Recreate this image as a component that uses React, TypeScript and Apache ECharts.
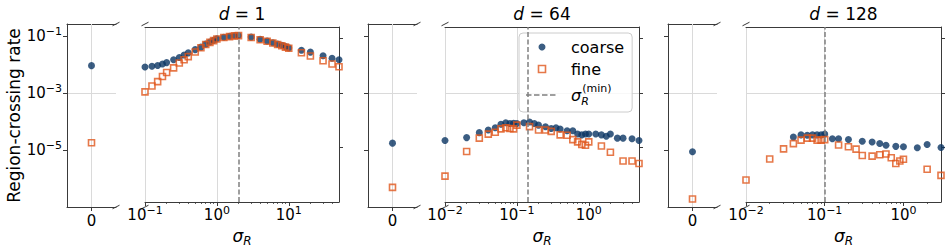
import React, { useEffect, useRef } from "react";
import * as echarts from "echarts";

// ---------- data ----------
const panelD = ["1", "64", "128"];
const sigmaMin = [2.0, 0.135, 0.1];
const xMinR = [0.1, 0.01, 0.01];
const xMaxR = [50, 5, 3];
const majorX = [
  [0.1, 1, 10],
  [0.01, 0.1, 1],
  [0.01, 0.1, 1],
];
const minorX = [
  [0.2, 0.3, 0.4, 0.5, 0.6, 0.7, 0.8, 0.9, 2, 3, 4, 5, 6, 7, 8, 9, 20, 30, 40],
  [0.02, 0.03, 0.04, 0.05, 0.06, 0.07, 0.08, 0.09, 0.2, 0.3, 0.4, 0.5, 0.6, 0.7, 0.8, 0.9, 2, 3, 4],
  [0.02, 0.03, 0.04, 0.05, 0.06, 0.07, 0.08, 0.09, 0.2, 0.3, 0.4, 0.5, 0.6, 0.7, 0.8, 0.9, 2],
];
const yTicks = [1e-5, 1e-3, 1e-1];
const yMin = 1e-7;
const yMax = 0.263;

// sigma_R = 0 (left narrow panels)
const zeroCoarse = [0.0091, 1.74e-5, 8.7e-6];
const zeroFine = [1.8e-5, 4.9e-7, 1.9e-7];

// d = 1
const sigma1 = [0.1, 0.125, 0.15, 0.175, 0.2, 0.25, 0.3, 0.35, 0.4, 0.5, 0.6, 0.7, 0.8, 0.9, 1.0, 1.25, 1.5, 1.75, 2.0, 3, 4, 5, 6, 7, 8, 9, 10, 15, 20, 30, 40, 50];
const coarse1 = [0.0089, 0.0095, 0.0102, 0.0115, 0.013, 0.0165, 0.02, 0.0246, 0.0296, 0.039, 0.048, 0.062, 0.074, 0.085, 0.097, 0.11, 0.12, 0.125, 0.128, 0.112, 0.093, 0.08, 0.07, 0.062, 0.056, 0.05, 0.045, 0.037, 0.0315, 0.0233, 0.0188, 0.0165];
const fine1 = [0.0011, 0.0018, 0.0026, 0.004, 0.0056, 0.0083, 0.0125, 0.0165, 0.0215, 0.032, 0.0455, 0.06, 0.072, 0.083, 0.095, 0.108, 0.117, 0.124, 0.127, 0.108, 0.09, 0.0785, 0.068, 0.06, 0.054, 0.048, 0.0436, 0.0298, 0.0228, 0.0152, 0.0115, 0.0091];

// d = 64
const sigma2c = [0.01, 0.02, 0.03, 0.04, 0.05, 0.06, 0.07, 0.08, 0.09, 0.1, 0.125, 0.15, 0.175, 0.2, 0.25, 0.3, 0.35, 0.4, 0.5, 0.6, 0.7, 0.8, 0.9, 1.0, 1.25, 1.5, 1.75, 2.0, 2.5, 3, 4, 5];
const coarse2 = [1.8e-5, 2.3e-5, 3.5e-5, 4.4e-5, 5.3e-5, 7.1e-5, 8.1e-5, 7.6e-5, 7.8e-5, 7.6e-5, 8.1e-5, 8.6e-5, 7.6e-5, 6.6e-5, 5.8e-5, 5.0e-5, 5.3e-5, 4.8e-5, 4.1e-5, 4.1e-5, 3.1e-5, 2.9e-5, 3.1e-5, 3.1e-5, 3.1e-5, 2.9e-5, 2.6e-5, 3.1e-5, 2.2e-5, 2.2e-5, 2.1e-5, 1.8e-5];
const sigma2f = [0.01, 0.02, 0.03, 0.04, 0.05, 0.06, 0.07, 0.08, 0.09, 0.1, 0.15, 0.2, 0.25, 0.3, 0.4, 0.5, 0.6, 0.7, 0.8, 0.9, 1.0, 1.5, 2.0, 3, 4, 5];
const fine2 = [8.9e-7, 7.1e-6, 2.2e-5, 3.1e-5, 3.6e-5, 4.8e-5, 5.3e-5, 5.0e-5, 4.8e-5, 6.6e-5, 5.8e-5, 4.4e-5, 4.4e-5, 3.9e-5, 2.9e-5, 2.8e-5, 1.95e-5, 1.6e-5, 1.3e-5, 1.2e-5, 1.6e-5, 1.14e-5, 6.7e-6, 3.2e-6, 3.2e-6, 2.6e-6];

// d = 128
const sigma3c = [0.04, 0.05, 0.06, 0.07, 0.08, 0.09, 0.1, 0.125, 0.15, 0.2, 0.3, 0.4, 0.5, 0.6, 0.8, 1.0, 1.5, 2.0, 3.0];
const coarse3 = [2.4e-5, 2.9e-5, 2.8e-5, 2.9e-5, 2.9e-5, 2.9e-5, 3.1e-5, 2.1e-5, 2.1e-5, 1.95e-5, 1.7e-5, 1.6e-5, 1.4e-5, 1.2e-5, 1.1e-5, 1.06e-5, 9.8e-6, 1.28e-5, 1.0e-5];
const sigma3f = [0.01, 0.02, 0.03, 0.04, 0.05, 0.06, 0.07, 0.08, 0.09, 0.1, 0.15, 0.2, 0.25, 0.3, 0.4, 0.5, 0.6, 0.7, 0.8, 0.9, 1.0, 2.0, 3.0];
const fine3 = [6.4e-7, 3.8e-6, 8.9e-6, 1.38e-5, 1.86e-5, 2.2e-5, 2.2e-5, 1.86e-5, 1.86e-5, 1.95e-5, 1.24e-5, 1.06e-5, 8.7e-6, 5.1e-6, 4.8e-6, 5.4e-6, 5.8e-6, 4.2e-6, 2.6e-6, 3.2e-6, 3.7e-6, 1.6e-6, 9.5e-7];

const coarseX = [sigma1, sigma2c, sigma3c];
const coarseY = [coarse1, coarse2, coarse3];
const fineX = [sigma1, sigma2f, sigma3f];
const fineY = [fine1, fine2, fine3];

// ---------- layout / style ----------
const FONT = "DejaVu Sans";
const SPINE = "#3a3a3a";
const GRIDC = "#dadada";
const NAVY = "#0a3563";
const ORANGE = "#e0561b";
const DASHC = "#808080";
const TOP = 24;
const H = 183;
const leftL = [67, 368, 668];
const widthL = 49;
const leftR = [145, 445, 746];
const widthR = [194, 194, 195];

const SQUARE_ICON = "path://M0,0L10,0L10,10L0,10Z";
const DASH_ICON =
  "path://M0,0h5.5v1.5h-5.5z M8,0h5.5v1.5h-5.5z M16,0h5.5v1.5h-5.5z M24,0h5.5v1.5h-5.5z M32,0h0.01v1.5h-0.01z";

const zip = (xs: number[], ys: number[]) => xs.map((x, i) => [x, ys[i]]);

const richTick = {
  b: { fontSize: 15, fontFamily: FONT, color: "#000", lineHeight: 20 },
  s: { fontSize: 11, fontFamily: FONT, color: "#000", verticalAlign: "top", lineHeight: 20 },
};
const powFmt = (v: number) => {
  const e = Math.round(Math.log10(v));
  return `{b|10}{s|${e < 0 ? "\u2212" : ""}${Math.abs(e)}}`;
};

function buildOption() {
  const grid: any[] = [];
  const xAxis: any[] = [];
  const yAxis: any[] = [];
  const series: any[] = [];
  const graphic: any[] = [];
  const spineLine = { show: true, onZero: false, lineStyle: { color: SPINE, width: 1 } };

  for (let p = 0; p < 3; p++) {
    const gL = grid.length;
    grid.push({ left: leftL[p], top: TOP, width: widthL, height: H });
    const gR = grid.length;
    grid.push({ left: leftR[p], top: TOP, width: widthR[p], height: H });

    // ---- left narrow panel (sigma = 0) ----
    const xL = xAxis.length;
    xAxis.push({
      type: "value", gridIndex: gL, position: "bottom", min: -1, max: 1, interval: 1,
      axisLine: spineLine,
      axisTick: { show: true, customValues: [0], length: 4, lineStyle: { color: SPINE } },
      axisLabel: { customValues: [0], formatter: () => "0", fontSize: 15, fontFamily: FONT, color: "#000", margin: 6 },
      splitLine: { show: false },
    });
    xAxis.push({
      type: "value", gridIndex: gL, position: "top", min: -1, max: 1,
      axisLine: spineLine, axisTick: { show: false }, axisLabel: { show: false }, splitLine: { show: false },
    });
    const yL = yAxis.length;
    yAxis.push({
      type: "log", logBase: 10, gridIndex: gL, position: "left", min: yMin, max: yMax, interval: 2,
      axisLine: spineLine,
      axisTick: { show: true, customValues: yTicks, length: 4, lineStyle: { color: SPINE } },
      axisLabel: { show: p === 0, customValues: yTicks, formatter: powFmt, rich: richTick, margin: 5 },
      splitLine: { show: true, showMinLine: false, showMaxLine: false, lineStyle: { color: GRIDC, width: 1 } },
      name: p === 0 ? "Region-crossing rate" : "",
      nameLocation: "middle", nameGap: 45, nameRotate: 90,
      nameTextStyle: { fontSize: 17, fontFamily: FONT, color: "#000" },
    });

    series.push({
      type: "scatter", name: "coarse", xAxisIndex: xL, yAxisIndex: yL,
      data: [[0, zeroCoarse[p]]], symbol: "circle", symbolSize: 7,
      itemStyle: { color: NAVY }, silent: true, z: 3,
      markLine: {
        silent: true, symbol: "none", label: { show: false }, z: 1,
        lineStyle: { color: GRIDC, type: "solid", width: 1 },
        data: [{ xAxis: 0 }],
      },
    });
    series.push({
      type: "scatter", name: "fine", xAxisIndex: xL, yAxisIndex: yL,
      data: [[0, zeroFine[p]]], symbol: "rect", symbolSize: 6, z: 4,
      itemStyle: { color: "transparent", borderColor: ORANGE, borderWidth: 1.6 }, silent: true,
    });

    // ---- right log panel ----
    const xR = xAxis.length;
    xAxis.push({
      type: "log", logBase: 10, gridIndex: gR, position: "bottom", min: xMinR[p], max: xMaxR[p],
      axisLine: spineLine,
      axisTick: { show: true, customValues: majorX[p], length: 4, lineStyle: { color: SPINE } },
      axisLabel: { customValues: majorX[p], formatter: powFmt, rich: richTick, margin: 3 },
      splitLine: { show: true, showMinLine: true, showMaxLine: false, lineStyle: { color: GRIDC, width: 1 } },
      name: "{i|\u03c3}{s|R}", nameLocation: "middle", nameGap: 23,
      nameTextStyle: {
        rich: {
          i: { fontSize: 17, fontFamily: FONT, fontStyle: "italic", color: "#000", lineHeight: 22 },
          s: { fontSize: 12, fontFamily: FONT, fontStyle: "italic", color: "#000", verticalAlign: "bottom", lineHeight: 22 },
        },
      },
    });
    xAxis.push({
      type: "log", logBase: 10, gridIndex: gR, position: "bottom", min: xMinR[p], max: xMaxR[p],
      axisLine: { show: false, onZero: false },
      axisTick: { show: true, customValues: minorX[p], length: 2, lineStyle: { color: SPINE, width: 0.8 } },
      axisLabel: { show: false }, splitLine: { show: false },
    });
    xAxis.push({
      type: "log", logBase: 10, gridIndex: gR, position: "top", min: xMinR[p], max: xMaxR[p],
      axisLine: spineLine, axisTick: { show: false }, axisLabel: { show: false }, splitLine: { show: false },
      name: `{i|d}{n| = ${panelD[p]}}`, nameLocation: "middle", nameGap: 5,
      nameTextStyle: {
        rich: {
          i: { fontSize: 17, fontFamily: FONT, fontStyle: "italic", color: "#000" },
          n: { fontSize: 17, fontFamily: FONT, color: "#000" },
        },
      },
    });
    const yR = yAxis.length;
    yAxis.push({
      type: "log", logBase: 10, gridIndex: gR, position: "right", min: yMin, max: yMax, interval: 2,
      axisLine: spineLine,
      axisTick: { show: true, customValues: yTicks, length: 4, lineStyle: { color: SPINE } },
      axisLabel: { show: false },
      splitLine: { show: true, showMinLine: false, showMaxLine: false, lineStyle: { color: GRIDC, width: 1 } },
    });

    series.push({
      type: "scatter", name: "coarse", xAxisIndex: xR, yAxisIndex: yR,
      data: zip(coarseX[p], coarseY[p]), symbol: "circle", symbolSize: 7,
      itemStyle: { color: NAVY }, silent: true, z: 3,
    });
    series.push({
      type: "scatter", name: "fine", xAxisIndex: xR, yAxisIndex: yR,
      data: zip(fineX[p], fineY[p]), symbol: "rect", symbolSize: 6, z: 4,
      itemStyle: { color: "transparent", borderColor: ORANGE, borderWidth: 1.6 }, silent: true,
      markLine: {
        silent: true, symbol: "none", label: { show: false },
        lineStyle: { color: DASHC, type: [5, 2.5], width: 1.5 },
        data: [{ xAxis: sigmaMin[p] }],
      },
    });
    if (p === 1) {
      series.push({
        type: "line", name: "smin", xAxisIndex: xR, yAxisIndex: yR, data: [],
        symbol: "none", itemStyle: { color: DASHC },
        lineStyle: { color: DASHC, type: [5, 2.5], width: 1.5 },
      });
    }

    // broken-axis marks
    const marks = [
      [leftL[p] + widthL, TOP], [leftL[p] + widthL, TOP + H],
      [leftR[p], TOP], [leftR[p], TOP + H],
    ];
    marks.forEach(([cx, cy]) => {
      graphic.push({
        type: "line", silent: true,
        shape: { x1: cx - 3.5, y1: cy + 1.8, x2: cx + 3.5, y2: cy - 1.8 },
        style: { stroke: SPINE, lineWidth: 1 },
      });
    });
  }

  return {
    animation: false,
    backgroundColor: "#ffffff",
    textStyle: { fontFamily: FONT },
    grid, xAxis, yAxis, series, graphic,
    legend: {
      orient: "vertical", left: 519, top: 33, padding: [6, 8, 5, 7], itemGap: 6,
      itemWidth: 32, itemHeight: 7, selectedMode: false, symbolKeepAspect: true,
      backgroundColor: "rgba(255,255,255,0.8)", borderColor: "#cccccc", borderWidth: 1, borderRadius: 4,
      data: [
        { name: "coarse", icon: "circle", itemStyle: { color: NAVY, borderWidth: 0 } },
        { name: "fine", icon: SQUARE_ICON, itemStyle: { color: "transparent", borderColor: ORANGE, borderWidth: 1.6 } },
        { name: "smin", icon: DASH_ICON, itemStyle: { color: DASHC, borderWidth: 0 } },
      ],
      formatter: (n: string) => (n === "smin" ? "{i|\u03c3}{r|R}{m|(min)}" : n),
      textStyle: {
        fontSize: 16, fontFamily: FONT, color: "#000", padding: [0, 0, 0, 8],
        rich: {
          i: { fontSize: 16, fontFamily: FONT, fontStyle: "italic", color: "#000", lineHeight: 24 },
          r: { fontSize: 11, fontFamily: FONT, fontStyle: "italic", color: "#000", verticalAlign: "bottom", lineHeight: 24, width: 1 },
          m: { fontSize: 11, fontFamily: FONT, color: "#000", verticalAlign: "top", lineHeight: 24 },
        },
      },
    },
  };
}

export default function App() {
  const ref = useRef<HTMLDivElement>(null);
  useEffect(() => {
    if (!ref.current) return;
    const chart = echarts.init(ref.current, null, { renderer: "svg" });
    chart.setOption(buildOption() as any);
    return () => chart.dispose();
  }, []);
  return (
    <div
      ref={ref}
      style={{ position: "fixed", left: 0, top: 0, width: 947, height: 252, background: "#fff" }}
    />
  );
}
